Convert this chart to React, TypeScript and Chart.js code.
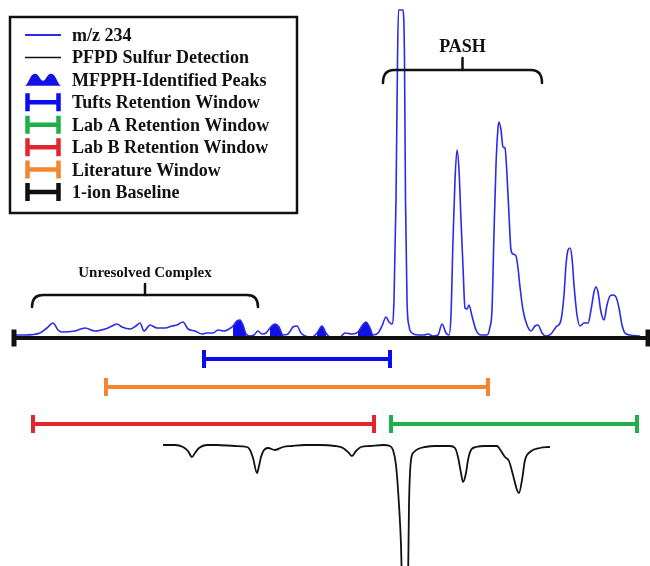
import React, { useEffect, useRef } from "react";
import { Chart, registerables } from "chart.js";

Chart.register(...registerables);

// m/z 234 trace: retention time (min) and intensity (arbitrary units)
const mzTime = [
  1.4, 2.5, 4.0, 4.7, 5.3, 5.8, 6.2, 7.5, 8.5, 9.5, 10.5, 11.2, 11.7, 12.2, 13.0, 13.6, 14.0, 14.4, 15.0, 15.7,
  16.5, 17.2, 17.7, 18.3, 18.8, 19.5, 20.2, 20.7, 21.3, 21.8, 22.4, 22.9, 23.3, 23.7, 24.0, 24.3, 24.6, 25.0,
  25.4, 25.8, 26.2, 26.6, 27.0, 27.5, 27.9, 28.3, 28.8, 29.3, 29.7, 30.1, 30.5, 31.2, 31.7, 32.2, 32.6, 33.0,
  34.0, 34.5, 35.2, 35.8, 36.2, 36.6, 37.0, 37.3, 37.8, 38.2, 38.6, 38.9, 39.2, 39.4, 39.6, 39.75, 39.85, 40.3,
  40.45, 40.55, 40.7, 40.9, 41.2, 41.8, 42.4, 42.8, 43.3, 43.8, 44.2, 44.6, 44.9, 45.1, 45.3, 45.5, 45.7, 45.9,
  46.1, 46.3, 46.5, 46.7, 46.9, 47.2, 47.6, 48.1, 48.7, 49.0, 49.2, 49.4, 49.6, 49.8, 49.9, 50.1, 50.3, 50.5,
  50.7, 50.9, 51.1, 51.3, 51.6, 51.8, 52.0, 52.3, 52.7, 53.1, 53.5, 53.8, 54.2, 54.6, 55.1, 55.6, 56.1, 56.4,
  56.6, 56.8, 57.0, 57.2, 57.4, 57.7, 58.0, 58.4, 58.8, 59.1, 59.4, 59.6, 59.8, 60.1, 60.4, 60.7, 61.0, 61.3,
  61.6, 61.9, 62.2, 62.5, 63.0, 64.0,
];
const mzIntensity = [
  1.5, 1.5, 2.5, 5, 7.5, 4, 3, 3.5, 5, 3.5, 4.5, 6, 7, 5.5, 4.5, 6, 7.5, 3.5, 6.5, 5,
  5, 6, 6.5, 8, 4.5, 3.5, 2, 2.5, 2.5, 4, 3.5, 4.5, 6, 8.5, 9, 6.5, 2, 1,
  1.5, 3.5, 2, 2.5, 5, 7, 5.5, 1.5, 2, 5.5, 6, 2.5, 1, 0.5, 2.5, 6, 2.5, 0.5,
  0.5, 2.5, 2, 3, 6, 8, 5, 1.5, 2.5, 6, 10.5, 8, 7, 19, 69, 139, 164, 164,
  139, 69, 19, 6, 2.5, 1.5, 1.5, 2, 1, 1.5, 7, 2.5, 1.5, 11.5, 49, 79, 94, 84,
  59, 35.5, 15, 14.5, 16.5, 11, 4, 1.5, 1.5, 5.5, 14, 52.5, 86.5, 105, 108, 104, 95.5, 95,
  81.5, 61.5, 44, 42, 41, 35, 25.5, 14, 6.5, 3.5, 6, 6.5, 2.5, 1, 2, 5.5, 9, 21.5,
  36.5, 44, 45, 40, 26.5, 11.5, 6, 7.5, 7.5, 14, 23, 25.5, 23, 13, 9, 16.5, 21, 21.5,
  20.5, 15, 6.5, 2.5, 1.5, 1,
];

// MFPPH-identified peaks (retention-time ranges filled under the m/z 234 trace)
const identifiedPeakStart = [23.2, 26.8, 31.6, 35.8];
const identifiedPeakEnd = [24.7, 28.4, 32.7, 37.4];

// PFPD sulfur detection trace (plotted inverted)
const pfpdTime = [
  16.3, 17.5, 18.3, 18.8, 19.2, 19.5, 19.9, 20.7, 21.7, 23.5, 24.7, 25.0, 25.3, 25.7, 25.9, 26.1, 26.4, 26.8,
  27.5, 28.3, 29.2, 30.5, 32.0, 33.5, 34.3, 34.8, 35.2, 35.6, 36.1, 37.0, 38.3, 39.0, 39.3, 39.6, 39.9, 40.1,
  40.2, 40.5, 40.8, 40.9, 41.1, 41.4, 41.8, 42.5, 43.5, 45.0, 45.5, 45.8, 46.1, 46.3, 46.6, 46.8, 47.1, 47.6,
  48.5, 49.7, 50.1, 50.5, 50.9, 51.3, 51.7, 51.9, 52.2, 52.5, 53.0, 54.0, 55.0,
];
const pfpdSignal = [
  0, 0, 2, 6, 12, 8, 3, 0, 0, 1, 2, 5, 13, 28, 21, 12, 5, 3,
  5, 2, 1, 0, 0, 1, 3, 7, 11, 6, 2, 1, 0, 1, 5, 20, 60, 100,
  140, 220, 140, 60, 15, 7, 4, 2, 1, 1, 3, 12, 28, 37, 28, 15, 5, 2,
  1, 1, 6, 12, 16, 30, 45, 48, 35, 15, 7, 3, 2,
];

// Retention windows
const windowNames = [
  "Tufts Retention Window",
  "Literature Window",
  "Lab B Retention Window",
  "Lab A Retention Window",
];
const windowStart = [20.4, 10.6, 3.3, 39.1];
const windowEnd = [39.0, 48.8, 37.4, 63.7];
const windowRow = [-10.5, -24.5, -43, -43];

// 1-ion baseline
const baselineStart = 1.4;
const baselineEnd = 64.8;

// Brace annotations
const braceLabels = ["Unresolved Complex", "PASH"];
const braceStart = [3.2, 38.3];
const braceEnd = [25.8, 54.2];
const braceLevel = [21.5, 134];
const braceTip = [15.5, 127.5];
const braceTop = [27, 140];
const braceLabelY = [30.5, 143];

const legendLabels = [
  "m/z 234",
  "PFPD Sulfur Detection",
  "MFPPH-Identified Peaks",
  "Tufts Retention Window",
  "Lab A Retention Window",
  "Lab B Retention Window",
  "Literature Window",
  "1-ion Baseline",
];

const BLUE_TRACE = "#2b2be6";
const BLUE_FILL = "#1212e8";
const BLUE_BAR = "#0b0bf0";
const GREEN = "#1fae4a";
const RED = "#e3262e";
const ORANGE = "#f4862f";
const BLACK = "#111111";
const windowColors = [BLUE_BAR, ORANGE, RED, GREEN];
const FONT = '"Liberation Serif", "Times New Roman", serif';

const overlayPlugin = {
  id: "overlay",
  afterDatasetsDraw(chart: any) {
    const ctx = chart.ctx as CanvasRenderingContext2D;
    const xs = chart.scales.x;
    const ys = chart.scales.y;
    ctx.save();
    ctx.strokeStyle = BLACK;
    ctx.fillStyle = BLACK;
    ctx.lineWidth = 2.5;
    ctx.lineCap = "round";
    const fontSizes = [15, 18];
    braceLabels.forEach((label, i) => {
      const x1 = xs.getPixelForValue(braceStart[i]);
      const x2 = xs.getPixelForValue(braceEnd[i]);
      const yl = ys.getPixelForValue(braceLevel[i]);
      const yt = ys.getPixelForValue(braceTip[i]);
      const ytop = ys.getPixelForValue(braceTop[i]);
      const r = 11;
      ctx.beginPath();
      ctx.moveTo(x1, yt);
      ctx.quadraticCurveTo(x1, yl, x1 + r, yl);
      ctx.lineTo(x2 - r, yl);
      ctx.quadraticCurveTo(x2, yl, x2, yt);
      ctx.stroke();
      const xc = (x1 + x2) / 2;
      ctx.beginPath();
      ctx.moveTo(xc, yl);
      ctx.lineTo(xc, ytop);
      ctx.stroke();
      ctx.font = `bold ${fontSizes[i]}px ${FONT}`;
      ctx.textAlign = "center";
      ctx.textBaseline = "alphabetic";
      ctx.fillText(label, xc, ys.getPixelForValue(braceLabelY[i]));
    });
    ctx.restore();
  },
  afterDraw(chart: any) {
    const ctx = chart.ctx as CanvasRenderingContext2D;
    ctx.save();
    // legend box
    ctx.fillStyle = "#ffffff";
    ctx.fillRect(10, 17, 287, 196);
    ctx.strokeStyle = BLACK;
    ctx.lineWidth = 2.5;
    ctx.strokeRect(10, 17, 287, 196);
    const symColors = [BLUE_TRACE, BLACK, BLUE_FILL, BLUE_BAR, GREEN, RED, ORANGE, BLACK];
    legendLabels.forEach((label, i) => {
      const cy = 35 + i * 22.43;
      const col = symColors[i];
      ctx.strokeStyle = col;
      ctx.fillStyle = col;
      if (i < 2) {
        ctx.lineWidth = i === 0 ? 2 : 1.6;
        ctx.beginPath();
        ctx.moveTo(25, cy);
        ctx.lineTo(61, cy);
        ctx.stroke();
      } else if (i === 2) {
        ctx.beginPath();
        ctx.moveTo(25, cy + 6);
        ctx.bezierCurveTo(29, cy + 4, 30, cy - 6, 35, cy - 6);
        ctx.bezierCurveTo(39, cy - 6, 40, cy + 1, 43, cy + 1);
        ctx.bezierCurveTo(46, cy + 1, 47, cy - 6, 51, cy - 6);
        ctx.bezierCurveTo(56, cy - 6, 57, cy + 4, 61, cy + 6);
        ctx.closePath();
        ctx.fill();
      } else {
        ctx.lineWidth = 4.5;
        ctx.lineCap = "butt";
        ctx.beginPath();
        ctx.moveTo(27.5, cy - 9);
        ctx.lineTo(27.5, cy + 9);
        ctx.moveTo(58.5, cy - 9);
        ctx.lineTo(58.5, cy + 9);
        ctx.moveTo(27.5, cy);
        ctx.lineTo(58.5, cy);
        ctx.stroke();
      }
      ctx.fillStyle = BLACK;
      ctx.font = `bold 18px ${FONT}`;
      ctx.textAlign = "left";
      ctx.textBaseline = "alphabetic";
      ctx.fillText(label, 72, cy + 6);
    });
    ctx.restore();
  },
};

export default function App() {
  const canvasRef = useRef<HTMLCanvasElement | null>(null);

  useEffect(() => {
    if (!canvasRef.current) return;
    const mzPoints = mzTime.map((t, i) => ({ x: t, y: mzIntensity[i] }));
    const pfpdPoints = pfpdTime.map((t, i) => ({ x: t, y: pfpdSignal[i] }));

    const fillSets = identifiedPeakStart.map((s, k) => ({
      label: "MFPPH-Identified Peaks",
      data: mzPoints.filter((p) => p.x >= s && p.x <= identifiedPeakEnd[k]),
      yAxisID: "y",
      borderWidth: 0,
      borderColor: BLUE_FILL,
      backgroundColor: BLUE_FILL,
      fill: "origin",
      pointRadius: 0,
      cubicInterpolationMode: "monotone" as const,
      order: 5,
    }));

    const windowSets = windowNames.map((name, k) => ({
      label: name,
      data: [
        { x: windowStart[k], y: windowRow[k] },
        { x: windowEnd[k], y: windowRow[k] },
      ],
      yAxisID: "y",
      borderColor: windowColors[k],
      borderWidth: 4,
      pointStyle: "line" as const,
      rotation: 90,
      pointRadius: 9,
      pointBorderWidth: 4,
      pointBorderColor: windowColors[k],
      fill: false,
      order: 3,
    }));

    const chart = new Chart(canvasRef.current, {
      type: "line",
      data: {
        datasets: [
          {
            label: "1-ion Baseline",
            data: [
              { x: baselineStart, y: 0 },
              { x: baselineEnd, y: 0 },
            ],
            yAxisID: "y",
            borderColor: BLACK,
            borderWidth: 4,
            pointStyle: "line",
            rotation: 90,
            pointRadius: 8.5,
            pointBorderWidth: 5,
            pointBorderColor: BLACK,
            fill: false,
            order: 0,
          },
          {
            label: "m/z 234",
            data: mzPoints,
            yAxisID: "y",
            borderColor: BLUE_TRACE,
            borderWidth: 1.6,
            pointRadius: 0,
            fill: false,
            cubicInterpolationMode: "monotone",
            order: 1,
          },
          {
            label: "PFPD Sulfur Detection",
            data: pfpdPoints,
            yAxisID: "y2",
            borderColor: BLACK,
            borderWidth: 1.8,
            pointRadius: 0,
            fill: false,
            cubicInterpolationMode: "monotone",
            order: 2,
          },
          ...windowSets,
          ...fillSets,
        ] as any,
      },
      options: {
        responsive: false,
        animation: false,
        events: [],
        layout: { padding: 0, autoPadding: false },
        scales: {
          x: { type: "linear", min: 0, max: 65, display: false },
          y: { type: "linear", min: -114, max: 169, display: false },
          y2: { type: "linear", min: -445, max: 121, reverse: true, display: false },
        },
        plugins: {
          legend: { display: false },
          tooltip: { enabled: false },
        },
      },
      plugins: [overlayPlugin],
    });
    return () => chart.destroy();
  }, []);

  return (
    <div style={{ position: "absolute", left: 0, top: 0, width: 650, height: 566, background: "#fff" }}>
      <canvas ref={canvasRef} width={650} height={566} style={{ display: "block" }} />
    </div>
  );
}
